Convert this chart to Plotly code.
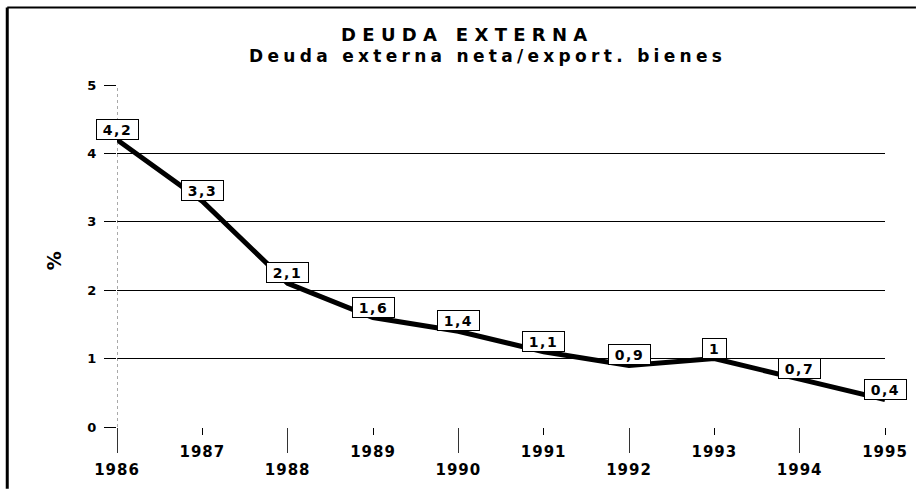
import plotly.graph_objects as go

# ---- data ----
years = [1986, 1987, 1988, 1989, 1990, 1991, 1992, 1993, 1994, 1995]
values = [4.2, 3.3, 2.1, 1.6, 1.4, 1.1, 0.9, 1.0, 0.7, 0.4]
y_ticks = [0, 1, 2, 3, 4, 5]
title_text = "DEUDA EXTERNA"
subtitle_text = "Deuda externa neta/export. bienes"
y_label = "%"

odd_years = years[1::2]
even_years = years[0::2]

FONT = "DejaVu Sans"


def fmt(v):
    return f"{v:g}".replace(".", ",")


fig = go.Figure()
fig.add_trace(go.Scatter(
    x=years, y=values, mode="lines",
    line=dict(color="black", width=5),
    hoverinfo="skip", showlegend=False,
))
# invisible companion trace so the staggered (even-year) axis is drawn
fig.add_trace(go.Scatter(
    x=years, y=values, mode="lines", xaxis="x2",
    line=dict(color="rgba(0,0,0,0)", width=1),
    hoverinfo="skip", showlegend=False,
))

# value labels in boxes, bottom edge at the data point
for x, v in zip(years, values):
    t = fmt(v)
    fig.add_annotation(
        x=x, y=v, xref="x", yref="y", text=t, showarrow=False,
        yanchor="bottom", xanchor="center",
        width=9 * len(t) + 12, height=17,
        bgcolor="white", bordercolor="black", borderwidth=1, borderpad=1,
        font=dict(family=FONT, size=14, color="black", weight="bold"),
    )

fig.add_annotation(
    text=title_text, xref="paper", yref="paper", x=0.457, y=1.148,
    xanchor="center", yanchor="middle", showarrow=False,
    font=dict(family=FONT, size=18, color="black", weight="bold"),
)
fig.add_annotation(
    text=subtitle_text, xref="paper", yref="paper", x=0.4825, y=1.084,
    xanchor="center", yanchor="middle", showarrow=False,
    font=dict(family=FONT, size=17, color="black", weight="bold"),
)
fig.add_annotation(
    text=y_label, xref="paper", yref="paper", x=-0.0818, y=0.4855,
    xanchor="center", yanchor="middle", showarrow=False, textangle=-90,
    font=dict(family=FONT, size=19, color="black", weight="bold"),
)

# dotted vertical at the first year (value axis line)
fig.add_shape(type="line", xref="x", yref="paper", x0=years[0], x1=years[0],
              y0=0, y1=1, line=dict(color="#555", width=1, dash="dot"))
# frame (top and left edges)
fig.add_shape(type="line", xref="paper", yref="paper", x0=-0.1429, x1=1.0403,
              y0=1.2267, y1=1.2267, line=dict(color="black", width=2))
fig.add_shape(type="line", xref="paper", yref="paper", x0=-0.1429, x1=-0.1429,
              y0=1.2267, y1=-0.1802, line=dict(color="black", width=3))

tickfont_x = dict(family=FONT, size=15, color="black", weight="bold")
fig.update_layout(
    width=918, height=491,
    margin=dict(l=117, r=31, t=85, b=62),
    paper_bgcolor="white", plot_bgcolor="white",
    showlegend=False,
    xaxis=dict(
        range=[years[0], years[-1]], tickmode="array", tickvals=odd_years,
        ticktext=[str(y) for y in odd_years],
        ticks="outside", ticklen=7, tickcolor="black", tickwidth=1,
        showgrid=False, zeroline=False, showline=False,
        tickfont=tickfont_x, ticklabelstandoff=4,
    ),
    xaxis2=dict(
        overlaying="x", matches="x", anchor="y", side="bottom",
        range=[years[0], years[-1]], tickmode="array", tickvals=even_years,
        ticktext=[str(y) for y in even_years],
        ticks="outside", ticklen=25, tickcolor="#333", tickwidth=1,
        showgrid=False, zeroline=False, showline=False,
        tickfont=tickfont_x, ticklabelstandoff=4,
    ),
    yaxis=dict(
        range=[y_ticks[0], y_ticks[-1]], tickmode="array", tickvals=y_ticks,
        ticks="outside", ticklen=12, tickcolor="black", tickwidth=1,
        showgrid=True, gridcolor="black", gridwidth=1,
        zeroline=False, showline=False,
        tickfont=dict(family=FONT, size=13, color="black", weight="bold"),
        ticklabelstandoff=4,
    ),
)

post = """
document.body.style.margin = '0';
document.body.style.overflow = 'hidden';
var gd = document.getElementById('{plot_id}');
function spaceText(){
  var map = {'18':6.3, '17':4.3, '15':1, '14':1.5, '13':1};
  gd.querySelectorAll('text').forEach(function(t){
    var fs = String(Math.round(parseFloat(t.style.fontSize)));
    if (map[fs] !== undefined) { t.style.letterSpacing = map[fs] + 'px'; }
  });
}
spaceText();
if (gd.on) { gd.on('plotly_afterplot', spaceText); }
"""

fig.write_html("out.html", post_script=post,
               config={"displayModeBar": False, "staticPlot": True})
